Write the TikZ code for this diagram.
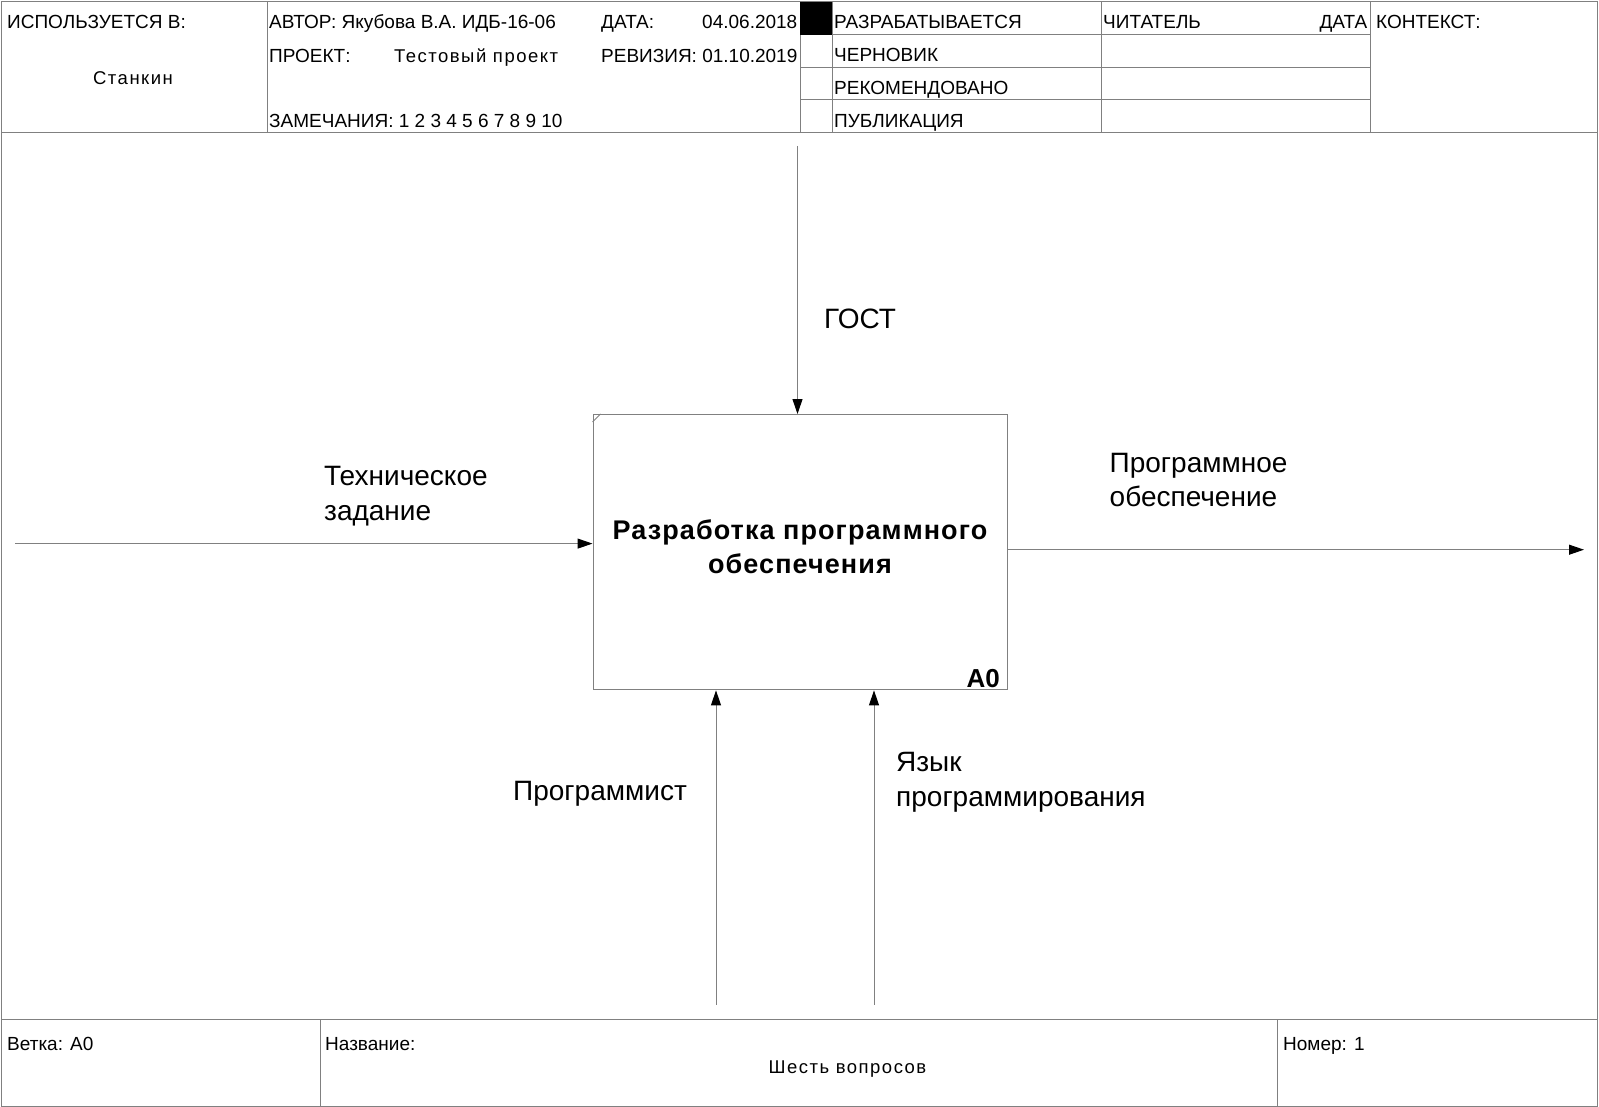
\documentclass[tikz,border=0pt]{standalone}
\usepackage{fontspec}
\setmainfont{Liberation Sans}
\usetikzlibrary{arrows.meta}
\definecolor{rulegray}{HTML}{808080}
\begin{document}
\begin{tikzpicture}[x=1pt,y=-1pt,
  rule/.style={draw=rulegray,line width=1pt},
  flow/.style={draw=rulegray,line width=1pt,-{Triangle[length=15pt,width=10pt,color=black]}},
  hdr/.style={inner sep=0pt,font=\fontsize{19}{22}\selectfont},
  hdrsp/.style={inner sep=0pt,font=\fontsize{18.5}{22}\selectfont\addfontfeatures{LetterSpace=8}},
  lbl/.style={inner sep=0pt,align=left,font=\fontsize{28}{34.7}\selectfont},
  title/.style={inner sep=0pt,align=center,font=\fontsize{27}{33.7}\selectfont\bfseries\addfontfeatures{LetterSpace=4}},
  funcbox/.style={draw=rulegray,line width=1pt,inner sep=0pt,anchor=north west}]
\useasboundingbox (0,0) rectangle (1599,1107);

% ---- outer frame ----
\draw[rule] (1,2) rectangle (1597,1106);

% ---- header form ----
\draw[rule] (1,132.6) -- (1597,132.6);
\foreach \xx in {267,800,832,1101,1370}
  \draw[rule] (\xx,2) -- (\xx,132.6);
\foreach \yy in {34.7,67.3,100}
  \draw[rule] (800,\yy) -- (1370,\yy);
\fill[black] (800,2) rectangle (832,34.7);

\node[hdr,anchor=base west] (usedin) at (7,29) {ИСПОЛЬЗУЕТСЯ В:};
\node[hdrsp,anchor=base] (org) at (133,85) {Станкин};
\node[hdr,anchor=base west] (author) at (269,29) {АВТОР: Якубова В.А. ИДБ-16-06};
\node[hdr,anchor=base west] (datelbl) at (601,29) {ДАТА:};
\node[hdr,anchor=base east] (dateval) at (797.5,29) {04.06.2018};
\node[hdr,anchor=base west] (projlbl) at (269,62.6) {ПРОЕКТ:};
\node[hdrsp,anchor=base west] (projval) at (394,62.6) {Тестовый проект};
\node[hdr,anchor=base west] (rev) at (601,62.6) {РЕВИЗИЯ: 01.10.2019};
\node[hdr,anchor=base west] (notes) at (269,127.6) {ЗАМЕЧАНИЯ: 1 2 3 4 5 6 7 8 9 10};
\node[hdr,anchor=base west] (st1) at (834,29) {РАЗРАБАТЫВАЕТСЯ};
\node[hdr,anchor=base west] (st2) at (834,62) {ЧЕРНОВИК};
\node[hdr,anchor=base west] (st3) at (834,94.3) {РЕКОМЕНДОВАНО};
\node[hdr,anchor=base west] (st4) at (834,127.6) {ПУБЛИКАЦИЯ};
\node[hdr,anchor=base west] (reader) at (1103,29) {ЧИТАТЕЛЬ};
\node[hdr,anchor=base east] (rdate) at (1367.5,29) {ДАТА};
\node[hdr,anchor=base west] (context) at (1376,29) {КОНТЕКСТ:};

% ---- footer form ----
\draw[rule] (1,1019) -- (1597,1019);
\draw[rule] (320,1019) -- (320,1106);
\draw[rule] (1277,1019) -- (1277,1106);
\node[hdr,anchor=base west] (node) at (7,1050.6) {Ветка: А0};
\node[hdr,anchor=base west] (namelbl) at (325,1050.6) {Название:};
\node[hdrsp,anchor=base] (nameval) at (847.5,1073.6) {Шесть вопросов};
\node[hdr,anchor=base west] (number) at (1283,1050.6) {Номер: 1};

% ---- function box A0 ----
\node[funcbox,minimum width=414.1pt,minimum height=275.4pt] (a0) at (592.5,414) {};
\draw[rulegray,line width=0.8pt] ([yshift=-8pt]a0.north west) -- ([xshift=8pt]a0.north west);
\node[title] (a0title) at (800,547) {Разработка программного\\обеспечения};
\node[inner sep=0pt,anchor=base east,font=\fontsize{26}{30}\selectfont\bfseries] (a0num) at (1000,687) {A0};

% ---- ICOM arrows ----
\coordinate (ctrl) at (797.5,146);
\coordinate (inp) at (15,543.6);
\coordinate (outp) at (1584,549.7);
\coordinate (mech1) at (716,1004.5);
\coordinate (mech2) at (874,1004.5);

\draw[flow] (ctrl) -- (ctrl |- a0.north);
\draw[flow] (inp) -- (inp -| a0.west);
\draw[flow] (outp -| a0.east) -- (outp);
\draw[flow] (mech1) -- (mech1 |- a0.south);
\draw[flow] (mech2) -- (mech2 |- a0.south);

% ---- arrow labels ----
\node[lbl,anchor=base west] (gost) at (824,329) {ГОСТ};
\node[lbl,anchor=west] (tz) at (324,496) {Техническое\\задание};
\node[lbl,anchor=west] (po) at (1109.5,480) {Программное\\обеспечение};
\node[lbl,anchor=base west] (prog) at (513,800) {Программист};
\node[lbl,anchor=west] (lang) at (896,782) {Язык\\программирования};
\end{tikzpicture}
\end{document}
